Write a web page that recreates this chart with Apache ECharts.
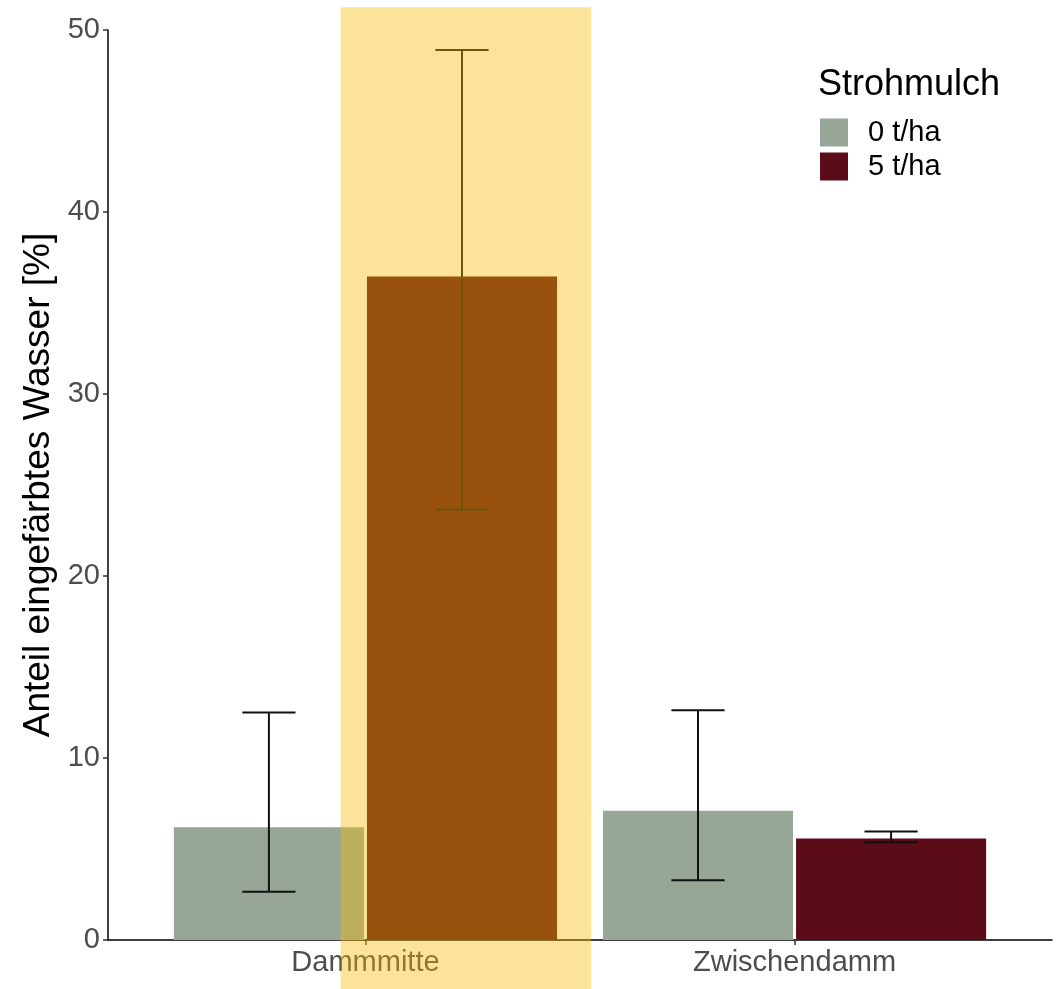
<!DOCTYPE html>
<html>
<head>
<meta charset="utf-8">
<script src="https://cdn.jsdelivr.net/npm/echarts@6/dist/echarts.min.js"></script>
<style>
html,body{margin:0;padding:0;background:#fff;}
#chart{width:1063px;height:989px;}
</style>
</head>
<body>
<div id="chart"></div>
<script>
// ---- data ----
const categories = ['Dammmitte', 'Zwischendamm'];
const groups = ['0 t/ha', '5 t/ha'];
const mean0 = [6.2, 7.1];
const low0  = [2.65, 3.28];
const high0 = [12.5, 12.62];
const mean5 = [36.45, 5.58];
const low5  = [23.65, 5.37];
const high5 = [48.9, 5.96];
const yTicks = [0, 10, 20, 30, 40, 50];
const highlightRange = [0.942, 1.526]; // x extent (category units) of the yellow highlight
const highlightTop = 51.25;              // y value of the top of the highlight

const colors = ['#97a697', '#5c0b18'];
const FONT = '"Liberation Sans", Arial, sans-serif';
const dodge = 0.225;   // half of dodged bar width
const whisk = 0.062;   // half whisker width

function buildData(means, lows, highs, offset) {
  return categories.map((c, i) => [i + 1 + offset, means[i], lows[i], highs[i]]);
}

function renderItem(params, api) {
  const x = api.value(0), y = api.value(1), lo = api.value(2), hi = api.value(3);
  const p0 = api.coord([x - dodge, 0]);
  const p1 = api.coord([x + dodge, y]);
  const c = api.coord([x, lo]);
  const h = api.coord([x, hi]);
  const wl = api.coord([x - whisk, lo])[0];
  const wr = api.coord([x + whisk, lo])[0];
  const lineStyle = { stroke: '#111', lineWidth: 2 };
  return {
    type: 'group',
    children: [
      { type: 'rect', shape: { x: p0[0] + 1.5, y: p1[1], width: p1[0] - p0[0] - 3, height: p0[1] - p1[1] },
        style: { fill: api.visual('color') } },
      { type: 'line', shape: { x1: c[0], y1: c[1], x2: h[0], y2: h[1] }, style: lineStyle },
      { type: 'line', shape: { x1: wl, y1: c[1], x2: wr, y2: c[1] }, style: lineStyle },
      { type: 'line', shape: { x1: wl, y1: h[1], x2: wr, y2: h[1] }, style: lineStyle }
    ]
  };
}

const chart = echarts.init(document.getElementById('chart'), null, { renderer: 'canvas' });
chart.setOption({
  animation: false,
  backgroundColor: '#ffffff',
  textStyle: { fontFamily: FONT },
  grid: { left: 108, right: 11, top: 30, bottom: 49, containLabel: false },
  title: {
    text: 'Strohmulch', left: 813, top: 62,
    textStyle: { fontFamily: FONT, fontSize: 36, fontWeight: 'normal', color: '#000' }
  },
  legend: {
    orient: 'vertical', left: 820, top: 118, padding: 0,
    itemWidth: 28, itemHeight: 28, itemGap: 5,
    icon: 'rect',
    data: groups,
    textStyle: { fontFamily: FONT, fontSize: 29, color: '#000', padding: [0, 0, 0, 15] }
  },
  xAxis: {
    type: 'value', min: 0.4, max: 2.6,
    splitLine: { show: false },
    axisLine: { show: true, onZero: false, lineStyle: { color: '#000', width: 1.5 } },
    axisTick: { show: true, customValues: [1, 2], length: 5, lineStyle: { color: '#333', width: 1.5 } },
    axisLabel: {
      customValues: [1, 2], margin: 8,
      formatter: v => categories[Math.round(v) - 1] || '',
      fontFamily: FONT, fontSize: 29, color: '#4d4d4d'
    }
  },
  yAxis: {
    type: 'value', min: 0, max: 50, interval: 10,
    splitLine: { show: false },
    axisLine: { show: true, lineStyle: { color: '#000', width: 1.5 } },
    axisTick: { show: true, length: 5, lineStyle: { color: '#333', width: 1.5 } },
    axisLabel: {
      margin: 8, fontFamily: FONT, fontSize: 29, color: '#4d4d4d',
      formatter: v => yTicks.includes(v) ? String(v) : ''
    },
    name: 'Anteil eingefärbtes Wasser [%]',
    nameLocation: 'middle', nameGap: 42,
    nameTextStyle: { fontFamily: FONT, fontSize: 37, color: '#000' }
  },
  series: [
    { name: groups[0], type: 'custom', renderItem, itemStyle: { color: colors[0] },
      encode: { x: 0, y: [1, 2, 3] }, data: buildData(mean0, low0, high0, -dodge), z: 2 },
    { name: groups[1], type: 'custom', renderItem, itemStyle: { color: colors[1] },
      encode: { x: 0, y: [1, 2, 3] }, data: buildData(mean5, low5, high5, dodge), z: 2 }
  ]
});

const hx0 = chart.convertToPixel({ xAxisIndex: 0 }, highlightRange[0]);
const hx1 = chart.convertToPixel({ xAxisIndex: 0 }, highlightRange[1]);
const hy0 = chart.convertToPixel({ yAxisIndex: 0 }, highlightTop);
chart.setOption({
  graphic: [{
    type: 'rect', z: 100,
    shape: { x: hx0, y: hy0, width: hx1 - hx0, height: chart.getHeight() - hy0 },
    style: { fill: 'rgba(245,188,0,0.4)' }
  }]
});
</script>
</body>
</html>
